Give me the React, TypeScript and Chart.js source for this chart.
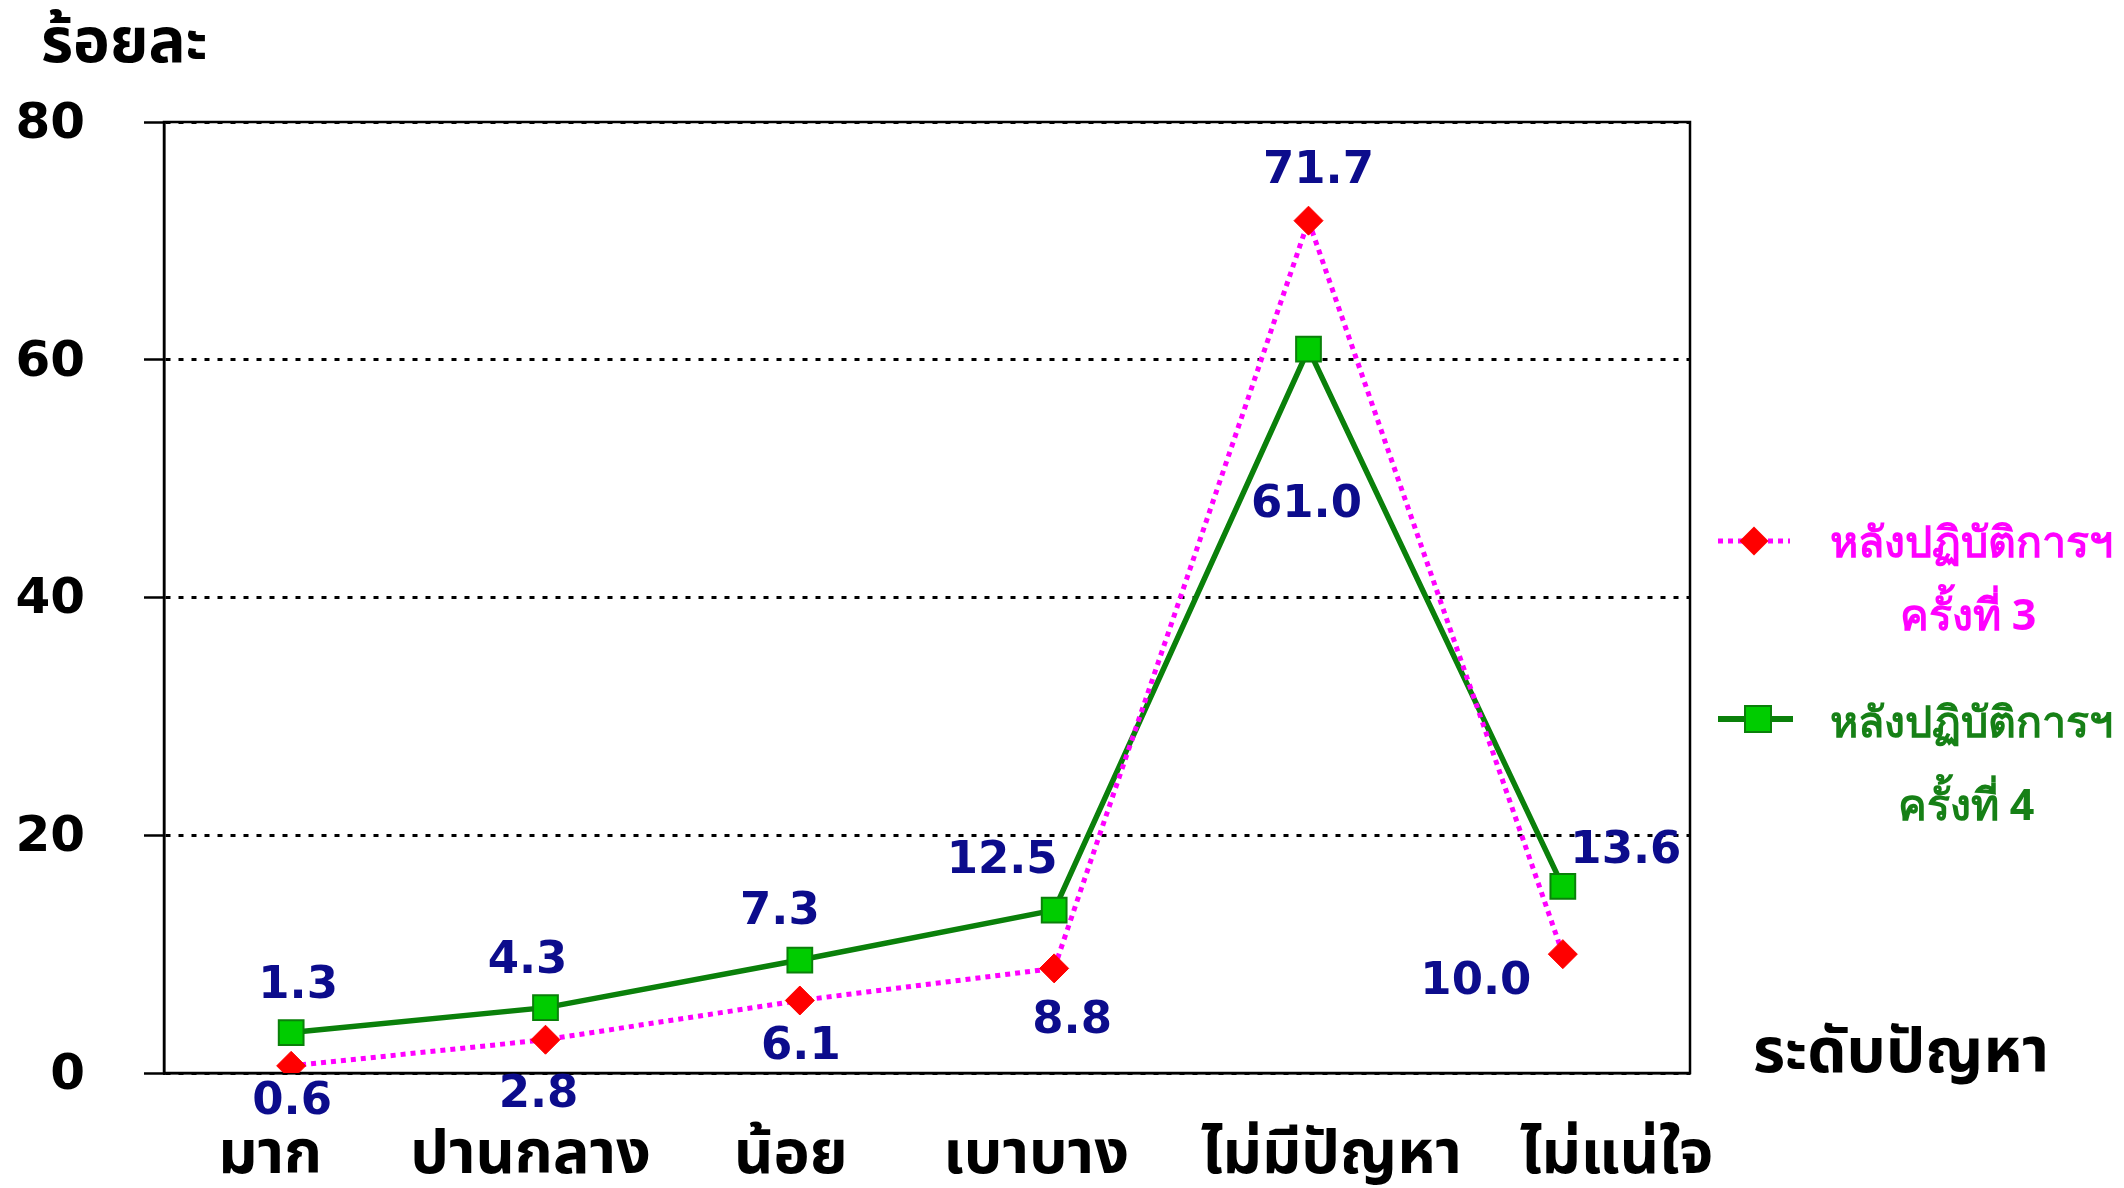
import React, { useEffect, useRef } from 'react';
import { Chart, registerables } from 'chart.js';

Chart.register(...registerables);

// ---------- data ----------
const categories = ['มาก', 'ปานกลาง', 'น้อย', 'เบาบาง', 'ไม่มีปัญหา', 'ไม่แน่ใจ'];
const round3Values = [0.6, 2.8, 6.1, 8.8, 71.7, 10.0];
const round3Labels = ['0.6', '2.8', '6.1', '8.8', '71.7', '10.0'];
const round4Values = [3.4, 5.5, 9.5, 13.7, 60.9, 15.7];
const round4Labels = ['1.3', '4.3', '7.3', '12.5', '61.0', '13.6'];
const yTickValues = [0, 20, 40, 60, 80];
const round3Name = ['หลังปฏิบัติการฯ', 'ครั้งที่ 3'];
const round4Name = ['หลังปฏิบัติการฯ', 'ครั้งที่ 4'];
const yTitle = 'ร้อยละ';
const xTitle = 'ระดับปัญหา';

// ---------- styles ----------
const NUM_FONT = '"DejaVu Sans", "Liberation Sans", sans-serif';
const THAI_FONT = '"Noto Sans", "DejaVu Sans", sans-serif';
const THAI_AXIS_FONT = '"Noto Sans Thai", "Noto Sans", "DejaVu Sans", sans-serif';
const PINK = '#ff00ff';
const RED = '#ff0000';
const GREEN_LINE = '#0a800a';
const GREEN_FILL = '#00cc00';
const LABEL_COLOR = '#0c0c8c';
const GREEN_TEXT = '#168016';

const labelOffsets = {
  round3: [[1, 36], [-7, 56], [1, 47], [18, 53], [10, -49], [-87, 28]],
  round4: [[7, -46], [-18, -46], [-20, -48], [-52, -49], [-2, 156], [63, -35]],
};
const categoryLabelDx = [-21, -15, -9, -18, 23, 54];

function drawDiamond(ctx: CanvasRenderingContext2D, x: number, y: number, r: number, fill: string) {
  ctx.beginPath();
  ctx.moveTo(x, y - r);
  ctx.lineTo(x + r, y);
  ctx.lineTo(x, y + r);
  ctx.lineTo(x - r, y);
  ctx.closePath();
  ctx.fillStyle = fill;
  ctx.fill();
}

const decorPlugin = {
  id: 'decor',
  beforeDraw(chart: any) {
    const ctx = chart.ctx;
    ctx.save();
    ctx.fillStyle = '#ffffff';
    ctx.fillRect(0, 0, chart.width, chart.height);
    ctx.restore();
  },
  beforeDatasetsDraw(chart: any) {
    const { ctx, chartArea } = chart;
    ctx.save();
    ctx.strokeStyle = '#000';
    ctx.lineWidth = 2.5;
    ctx.setLineDash([]);
    ctx.strokeRect(chartArea.left, chartArea.top, chartArea.right - chartArea.left, chartArea.bottom - chartArea.top);
    ctx.restore();
  },
  afterDraw(chart: any) {
    const { ctx, chartArea } = chart;
    const xScale = chart.scales.x;
    ctx.save();
    // data labels
    ctx.font = `bold 45px ${NUM_FONT}`;
    ctx.fillStyle = LABEL_COLOR;
    ctx.textAlign = 'center';
    ctx.textBaseline = 'middle';
    const sets: [number, string[], number[][]][] = [
      [0, round3Labels, labelOffsets.round3],
      [1, round4Labels, labelOffsets.round4],
    ];
    sets.forEach(([di, labels, offs]) => {
      const meta = chart.getDatasetMeta(di);
      meta.data.forEach((pt: any, i: number) => {
        ctx.fillText(labels[i], pt.x + offs[i][0], pt.y + offs[i][1]);
      });
    });

    // category labels (x axis)
    ctx.fillStyle = '#000';
    ctx.textBaseline = 'alphabetic';
    ctx.font = `bold 61px ${THAI_AXIS_FONT}`;
    categories.forEach((c, i) => {
      ctx.fillText(c, xScale.getPixelForValue(i) + categoryLabelDx[i], chartArea.bottom + 100);
    });

    // axis titles
    ctx.font = `bold 62px ${THAI_AXIS_FONT}`;
    ctx.textAlign = 'left';
    ctx.fillText(yTitle, 41, 62);
    ctx.font = `bold 62px ${THAI_AXIS_FONT}`;
    ctx.fillText(xTitle, chartArea.right + 63, chartArea.bottom - 1);

    // legend
    const R = chartArea.right;
    ctx.strokeStyle = PINK;
    ctx.lineWidth = 5;
    ctx.setLineDash([5, 5]);
    ctx.beginPath();
    ctx.moveTo(R + 28, 541);
    ctx.lineTo(R + 100, 541);
    ctx.stroke();
    ctx.setLineDash([]);
    drawDiamond(ctx, R + 64, 541, 14.5, RED);
    ctx.font = `bold 43px ${THAI_FONT}`;
    ctx.textAlign = 'center';
    ctx.fillStyle = PINK;
    ctx.fillText(round3Name[0], R + 281, 557);
    ctx.fillText(round3Name[1], R + 278, 630);

    ctx.strokeStyle = GREEN_LINE;
    ctx.lineWidth = 6;
    ctx.beginPath();
    ctx.moveTo(R + 28, 719);
    ctx.lineTo(R + 103, 719);
    ctx.stroke();
    ctx.fillStyle = GREEN_FILL;
    ctx.fillRect(R + 55, 706, 26, 26);
    ctx.strokeStyle = GREEN_LINE;
    ctx.lineWidth = 2;
    ctx.strokeRect(R + 55, 706, 26, 26);
    ctx.fillStyle = GREEN_TEXT;
    ctx.fillText(round4Name[0], R + 281, 737);
    ctx.fillText(round4Name[1], R + 276, 820);
    ctx.restore();
  },
};

export default function App() {
  const canvasRef = useRef<HTMLCanvasElement | null>(null);

  useEffect(() => {
    const canvas = canvasRef.current;
    if (!canvas) return;
    const chart = new Chart(canvas, {
      type: 'line',
      data: {
        labels: categories,
        datasets: [
          {
            label: round3Name.join(' '),
            data: round3Values,
            borderColor: PINK,
            borderWidth: 5,
            borderDash: [5, 5],
            pointStyle: 'rectRot',
            pointRadius: 14.5,
            pointHoverRadius: 14.5,
            pointBackgroundColor: RED,
            pointBorderColor: RED,
            pointBorderWidth: 1,
            tension: 0,
            fill: false,
          },
          {
            label: round4Name.join(' '),
            data: round4Values,
            borderColor: GREEN_LINE,
            borderWidth: 5.5,
            pointStyle: 'rect',
            pointRadius: 17.5,
            pointHoverRadius: 17.5,
            pointBackgroundColor: GREEN_FILL,
            pointBorderColor: GREEN_LINE,
            pointBorderWidth: 2,
            tension: 0,
            fill: false,
          },
        ],
      },
      options: {
        responsive: false,
        animation: false,
        devicePixelRatio: 1,
        layout: { padding: { left: 0, top: 122, right: 434, bottom: 0 } },
        plugins: {
          legend: { display: false },
          tooltip: { enabled: false },
          title: { display: false },
        },
        scales: {
          x: {
            type: 'category',
            offset: true,
            grid: { display: false, drawTicks: false },
            border: { display: true, color: '#000', width: 2.5 },
            ticks: { display: false },
            afterFit: (scale: any) => {
              scale.height = 115;
            },
          },
          y: {
            min: 0,
            max: 80,
            afterBuildTicks: (scale: any) => {
              scale.ticks = yTickValues.map((v) => ({ value: v }));
            },
            grid: {
              color: '#000',
              lineWidth: 3,
              drawTicks: true,
              tickLength: 20,
              tickColor: '#000',
              tickWidth: 2.5,
              tickBorderDash: [],
            },
            border: { display: true, color: '#000', width: 2.5, dash: [5, 8] },
            ticks: {
              color: '#000',
              font: { family: NUM_FONT, weight: 'bold', size: 50 },
              padding: 59,
              labelOffset: 3,
            },
            afterFit: (scale: any) => {
              scale.width = 164;
            },
          },
        },
      },
      plugins: [decorPlugin],
    });
    return () => chart.destroy();
  }, []);

  return (
    <div style={{ position: 'fixed', left: 0, top: 0, width: 2124, height: 1188, background: '#fff' }}>
      <canvas ref={canvasRef} width={2124} height={1188} style={{ width: 2124, height: 1188, display: 'block' }} />
    </div>
  );
}
